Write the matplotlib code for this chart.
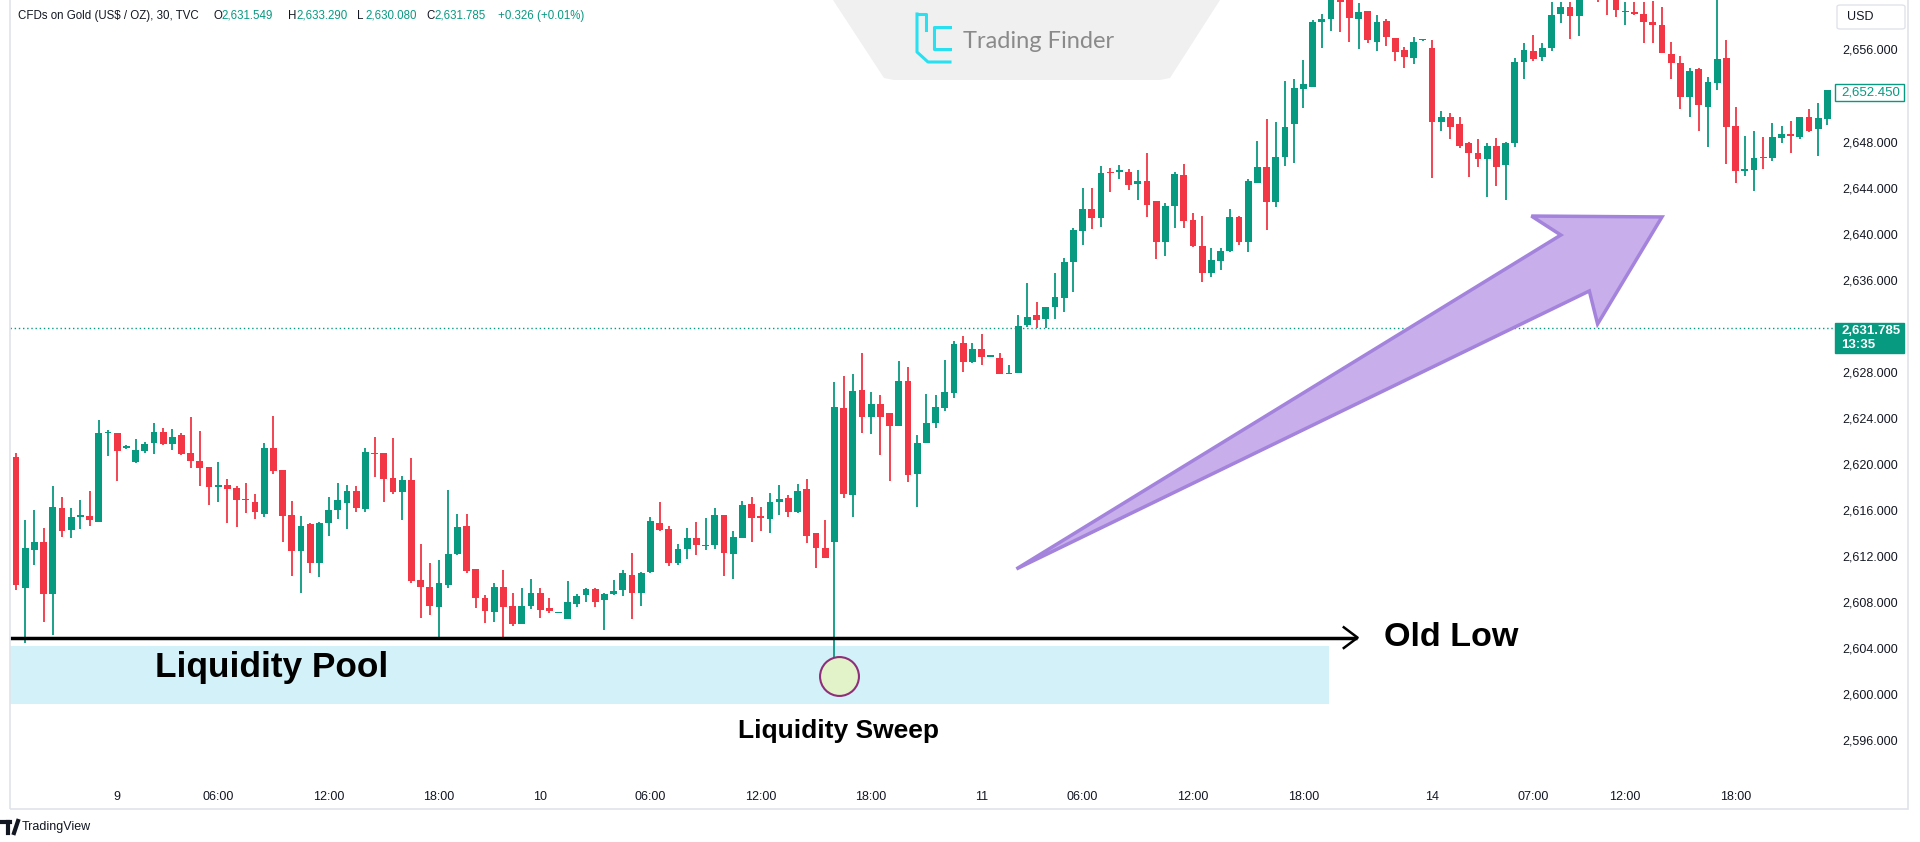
import matplotlib
matplotlib.use("Agg")
import matplotlib.pyplot as plt
from matplotlib.patches import Polygon, Rectangle, FancyBboxPatch
from matplotlib.lines import Line2D

# 30-minute candles, CFDs on Gold (US$/OZ)
opens = [
    2620.63, 2609.25, 2612.52, 2613.24, 2608.67, 2616.14, 2614.26, 2615.41, 2615.47, 2614.98,
    2622.65, 2622.71, 2621.40, 2620.19, 2621.12, 2621.84, 2622.77, 2621.70, 2622.51, 2620.92,
    2620.28, 2619.70, 2618.02, 2618.17, 2617.93, 2616.95, 2616.72, 2615.65, 2621.41, 2619.47,
    2615.56, 2612.46, 2614.75, 2611.36, 2614.89, 2615.99, 2616.63, 2617.67, 2616.08, 2620.97,
    2620.92, 2618.74, 2617.53, 2618.60, 2609.91, 2609.27, 2607.54, 2609.48, 2612.17, 2614.63,
    2610.84, 2608.32, 2607.13, 2609.27, 2607.65, 2606.09, 2607.65, 2608.75, 2607.45, 2607.05,
    2606.52, 2607.83, 2608.61, 2609.10, 2608.17, 2608.70, 2609.04, 2610.35, 2608.75, 2610.64,
    2614.89, 2614.37, 2611.42, 2612.58, 2613.59, 2612.87, 2612.95, 2615.56, 2612.14, 2613.59,
    2616.49, 2615.47, 2615.18, 2616.66, 2617.01, 2615.79, 2617.82, 2613.97, 2612.66, 2613.24,
    2624.83, 2617.30, 2626.42, 2624.10, 2625.20, 2624.39, 2623.32, 2627.20, 2619.12, 2621.79,
    2623.58, 2624.82, 2626.18, 2630.47, 2628.81, 2629.97, 2629.30, 2629.16, 2627.80, 2627.92,
    2632.06, 2632.93, 2632.55, 2633.59, 2634.38, 2637.56, 2640.23, 2642.11, 2641.33, 2645.35,
    2645.32, 2645.38, 2644.31, 2644.57, 2642.86, 2639.24, 2642.40, 2645.09, 2641.18, 2638.95,
    2636.55, 2637.65, 2638.52, 2641.47, 2639.25, 2644.43, 2645.82, 2642.78, 2646.69, 2649.53,
    2652.57, 2652.77, 2658.36, 2658.65, 2660.60, 2660.80, 2658.62, 2659.34, 2656.68, 2658.48,
    2657.03, 2655.96, 2655.23, 2656.82, 2656.16, 2649.67, 2650.16, 2649.50, 2647.91, 2646.98,
    2646.49, 2647.64, 2645.96, 2647.85, 2654.88, 2655.90, 2655.32, 2656.10, 2659.05, 2659.66,
    2658.91, 2660.80, 2661.80, 2661.50, 2660.80, 2659.23, 2659.29, 2659.05, 2658.36, 2658.13,
    2655.61, 2654.86, 2651.90, 2654.28, 2651.03, 2653.12, 2655.23, 2649.38, 2645.47, 2645.53,
    2646.69, 2646.54, 2648.28, 2648.63, 2648.43, 2650.16, 2649.09, 2649.96,
]
highs = [
    2620.97, 2615.12, 2615.99, 2614.40, 2618.08, 2617.09, 2616.14, 2616.86, 2617.67, 2623.81,
    2622.94, 2622.71, 2621.60, 2622.19, 2621.93, 2623.52, 2623.09, 2623.00, 2622.65, 2624.10,
    2622.89, 2619.70, 2620.16, 2618.66, 2618.08, 2618.37, 2617.38, 2621.84, 2624.16, 2619.47,
    2616.78, 2615.47, 2614.84, 2614.98, 2617.15, 2618.37, 2618.17, 2618.08, 2621.35, 2622.31,
    2620.92, 2622.22, 2618.95, 2620.48, 2613.04, 2611.36, 2611.65, 2617.73, 2615.65, 2615.65,
    2610.84, 2608.61, 2609.68, 2610.78, 2608.81, 2609.19, 2609.97, 2609.19, 2608.32, 2607.15,
    2609.85, 2608.67, 2609.19, 2609.19, 2608.76, 2609.91, 2610.78, 2612.23, 2610.64, 2615.42,
    2616.66, 2614.61, 2613.04, 2614.40, 2614.98, 2615.27, 2616.14, 2615.56, 2614.20, 2616.81,
    2617.15, 2616.23, 2617.44, 2618.17, 2617.30, 2618.25, 2618.66, 2613.97, 2615.13, 2627.14,
    2627.64, 2627.81, 2629.61, 2626.28, 2625.99, 2624.39, 2628.97, 2628.45, 2622.51, 2626.07,
    2625.99, 2629.02, 2630.70, 2631.10, 2630.47, 2631.28, 2629.40, 2629.65, 2628.58, 2632.93,
    2635.74, 2634.09, 2633.65, 2636.55, 2637.85, 2640.46, 2643.93, 2643.93, 2645.87, 2645.67,
    2645.96, 2645.58, 2645.52, 2647.03, 2642.86, 2642.63, 2645.38, 2646.02, 2641.76, 2641.53,
    2638.72, 2638.72, 2642.11, 2641.53, 2644.72, 2648.05, 2649.93, 2649.73, 2653.26, 2653.41,
    2655.09, 2658.56, 2659.08, 2660.90, 2661.20, 2661.50, 2660.07, 2659.34, 2659.00, 2658.65,
    2657.03, 2656.25, 2657.11, 2656.95, 2656.82, 2650.69, 2650.45, 2650.11, 2648.00, 2648.22,
    2647.85, 2648.34, 2648.00, 2655.23, 2656.59, 2657.26, 2656.59, 2660.15, 2660.15, 2660.15,
    2661.00, 2662.00, 2662.30, 2662.00, 2661.20, 2660.15, 2660.15, 2660.15, 2660.21, 2659.66,
    2656.68, 2655.43, 2654.42, 2654.36, 2653.64, 2660.60, 2656.82, 2650.97, 2648.48, 2648.95,
    2648.43, 2649.58, 2649.35, 2649.79, 2650.16, 2650.80, 2651.38, 2652.48,
]
lows = [
    2609.04, 2604.41, 2611.21, 2606.29, 2605.13, 2613.68, 2613.53, 2614.31, 2614.60, 2614.98,
    2620.68, 2618.54, 2621.30, 2620.11, 2620.92, 2620.86, 2621.64, 2621.21, 2620.77, 2619.61,
    2618.08, 2616.43, 2616.72, 2614.83, 2614.55, 2615.70, 2615.21, 2615.41, 2619.12, 2613.24,
    2610.26, 2608.81, 2610.55, 2610.20, 2613.73, 2615.18, 2614.31, 2615.79, 2615.85, 2618.89,
    2616.72, 2617.38, 2615.12, 2609.62, 2606.58, 2606.87, 2604.93, 2609.19, 2612.08, 2610.49,
    2607.45, 2606.15, 2606.23, 2604.84, 2605.92, 2606.09, 2607.36, 2606.58, 2607.02, 2607.00,
    2606.49, 2607.54, 2608.03, 2607.54, 2605.57, 2608.61, 2608.52, 2606.50, 2607.65, 2610.55,
    2614.20, 2611.13, 2611.22, 2611.71, 2612.09, 2612.52, 2612.58, 2610.26, 2609.97, 2613.53,
    2613.24, 2614.20, 2614.03, 2615.56, 2615.36, 2615.71, 2613.10, 2610.93, 2611.85, 2602.26,
    2617.01, 2615.42, 2622.71, 2622.57, 2620.77, 2618.51, 2623.32, 2618.46, 2616.23, 2621.79,
    2623.09, 2624.59, 2625.69, 2628.00, 2628.73, 2628.58, 2629.25, 2627.77, 2627.77, 2627.86,
    2631.86, 2631.77, 2631.77, 2632.58, 2633.22, 2634.95, 2639.01, 2640.37, 2640.60, 2643.64,
    2644.71, 2643.79, 2642.92, 2641.47, 2637.76, 2638.05, 2640.46, 2640.46, 2638.86, 2635.82,
    2636.20, 2636.84, 2638.43, 2639.01, 2638.44, 2644.43, 2640.32, 2642.34, 2645.88, 2646.17,
    2650.89, 2652.77, 2656.16, 2657.64, 2657.55, 2656.68, 2656.01, 2656.54, 2655.90, 2656.30,
    2655.03, 2654.42, 2654.74, 2656.78, 2644.81, 2648.95, 2648.19, 2647.41, 2644.89, 2645.82,
    2643.21, 2644.17, 2642.92, 2647.56, 2653.41, 2654.99, 2654.99, 2655.90, 2658.33, 2656.88,
    2657.17, 2660.50, 2660.15, 2659.00, 2658.85, 2658.13, 2659.00, 2656.54, 2656.59, 2655.67,
    2653.44, 2650.80, 2650.11, 2648.95, 2647.50, 2652.48, 2646.05, 2644.43, 2645.01, 2643.71,
    2645.62, 2646.31, 2647.85, 2646.98, 2648.19, 2648.86, 2646.75, 2649.44,
]
closes = [
    2609.48, 2612.66, 2613.24, 2608.67, 2616.22, 2614.17, 2615.36, 2615.56, 2615.12, 2622.71,
    2622.77, 2621.12, 2621.50, 2621.21, 2621.70, 2622.77, 2621.73, 2622.31, 2620.86, 2620.28,
    2619.67, 2617.96, 2618.17, 2617.82, 2616.86, 2616.86, 2615.79, 2621.41, 2619.41, 2615.50,
    2612.46, 2614.60, 2611.36, 2614.89, 2615.99, 2616.86, 2617.67, 2616.14, 2621.00, 2620.86,
    2618.66, 2617.59, 2618.60, 2609.82, 2609.33, 2607.65, 2609.62, 2612.17, 2614.55, 2610.69,
    2608.32, 2607.22, 2609.27, 2607.54, 2606.09, 2607.65, 2608.81, 2607.31, 2607.22, 2607.10,
    2608.00, 2608.52, 2609.10, 2608.03, 2608.70, 2608.96, 2610.55, 2608.75, 2610.55, 2615.07,
    2614.26, 2611.36, 2612.58, 2613.59, 2612.95, 2612.95, 2615.56, 2612.23, 2613.62, 2616.43,
    2615.33, 2615.27, 2616.66, 2616.92, 2615.79, 2617.67, 2613.76, 2612.72, 2611.85, 2624.97,
    2617.36, 2626.36, 2624.10, 2625.20, 2624.10, 2623.32, 2627.20, 2619.04, 2621.85, 2623.58,
    2624.97, 2626.27, 2630.41, 2628.81, 2629.97, 2629.31, 2629.36, 2627.80, 2627.92, 2631.97,
    2632.72, 2632.49, 2633.59, 2634.46, 2637.50, 2640.31, 2642.11, 2641.33, 2645.24, 2645.24,
    2645.52, 2644.22, 2644.57, 2642.48, 2639.24, 2642.40, 2645.15, 2641.12, 2638.95, 2636.61,
    2637.71, 2638.52, 2641.41, 2639.24, 2644.57, 2645.76, 2642.78, 2646.69, 2649.30, 2652.63,
    2652.97, 2658.42, 2658.65, 2660.60, 2660.15, 2658.71, 2659.29, 2656.82, 2658.36, 2657.11,
    2655.81, 2655.32, 2656.68, 2656.90, 2649.73, 2650.11, 2649.30, 2647.64, 2646.98, 2646.49,
    2647.64, 2645.82, 2647.91, 2654.94, 2655.96, 2655.17, 2656.10, 2659.00, 2659.66, 2658.91,
    2660.50, 2661.50, 2661.00, 2660.90, 2659.43, 2659.34, 2659.05, 2658.36, 2658.13, 2655.67,
    2654.80, 2651.90, 2654.13, 2651.18, 2653.20, 2655.15, 2649.30, 2645.47, 2645.59, 2646.60,
    2646.54, 2648.37, 2648.63, 2648.48, 2650.16, 2648.92, 2650.08, 2652.45,
]

time_ticks = [11, 22, 34, 46, 57, 69, 81, 93, 105, 116, 128, 140, 154, 165, 175, 187]
time_labels = ["9", "06:00", "12:00", "18:00", "10", "06:00", "12:00", "18:00",
               "11", "06:00", "12:00", "18:00", "14", "07:00", "12:00", "18:00"]
price_ticks = [2596, 2600, 2604, 2608, 2612, 2616, 2620, 2624, 2628, 2636, 2640, 2644, 2648, 2656]

last_price = 2652.45
current_price = 2631.785
old_low = 2604.9

UP = "#089981"
DOWN = "#f23645"
TEXT = "#131722"
W, H = 1920, 842


def fx(x):
    return x / W


def fy(y):
    return 1 - y / H


plt.rcParams["font.family"] = ["Liberation Sans", "DejaVu Sans"]

fig = plt.figure(figsize=(19.2, 8.42), dpi=100)
fig.patch.set_facecolor("white")
ax = fig.add_axes([fx(10), fy(770), fx(1833) - fx(10), 770 / H])
ax.set_facecolor("white")

n = len(closes)
xs = list(range(n))
colors = [UP if c >= o else DOWN for o, c in zip(opens, closes)]
bottoms = [min(o, c) for o, c in zip(opens, closes)]
heights = [max(abs(c - o), 0.12) for o, c in zip(opens, closes)]
ax.vlines(xs, lows, highs, colors=colors, linewidth=1.3, zorder=3)
ax.bar(xs, heights, bottom=bottoms, width=0.74, color=colors, linewidth=0, zorder=4)

ax.set_xlim(-0.65, 197.6)
ax.set_ylim(2593.4, 2660.3)

ax.axhline(current_price, color=UP, lw=1, ls=(0, (1, 2)), zorder=2)

# liquidity pool zone and old low
ax.add_patch(Rectangle((-0.65, 2599.14), 143.45, 5.04, facecolor="#d3f1f8",
                       edgecolor="none", zorder=1))
ax.plot([-0.65, 145.8], [old_low, old_low], color="black", lw=2.5, zorder=5,
        solid_capstyle="butt")
ax.plot([144.4, 145.9, 144.4], [old_low + 0.9, old_low, old_low - 0.9], color="black",
        lw=1.8, zorder=5)
ax.text(148.8, old_low, "Old Low", fontsize=24.6, fontweight="bold", color="black",
        ha="left", va="center", zorder=6)
ax.text(15.1, 2602.3, "Liquidity Pool", fontsize=25.4, fontweight="bold", color="black",
        ha="left", va="center", zorder=6)
ax.plot([89.5], [2601.6], marker="o", markersize=28, markerfacecolor="#e2f3c9",
        markeredgecolor="#8f2f7a", markeredgewidth=1.5, zorder=6)
ax.text(89.5, 2596.8, "Liquidity Sweep", fontsize=19, fontweight="bold", color="black",
        ha="center", va="center", zorder=6)

# purple trend arrow
arrow_pts = [(108.8, 2610.87), (168.0, 2639.88), (164.8, 2641.53), (179.0, 2641.45),
             (172.0, 2632.15), (171.1, 2635.02)]
ax.add_patch(Polygon(arrow_pts, closed=True, facecolor="#c8aeea", edgecolor="#a383dc",
                     lw=2.5, joinstyle="miter", zorder=6))

for s in ax.spines.values():
    s.set_visible(False)
ax.set_xticks(time_ticks)
ax.set_xticklabels(time_labels)
ax.tick_params(axis="x", length=0, pad=15, labelsize=9, labelcolor=TEXT)
ax.yaxis.tick_right()
ax.set_yticks(price_ticks)
ax.set_yticklabels([f"{p:,.3f}" for p in price_ticks])
ax.tick_params(axis="y", length=0, pad=7, labelsize=9, labelcolor=TEXT)

# pane frame
fig.add_artist(Rectangle((fx(10), fy(809)), fx(1898), 809 / H + 0.01,
                         transform=fig.transFigure, fill=False, ec="#e0e3eb", lw=1.2))

# price scale badges
fig.add_artist(FancyBboxPatch((fx(1837), fy(29)), fx(68), 24 / H,
                              boxstyle="round,pad=0,rounding_size=0.002",
                              transform=fig.transFigure, fc="white", ec="#e0e3eb", lw=1))
fig.text(fx(1847), fy(17), "USD", fontsize=9, color=TEXT, va="center", ha="left")
fig.add_artist(Rectangle((fx(1835), fy(101)), fx(69), 17 / H, transform=fig.transFigure,
                         fc="white", ec=UP, lw=1))
fig.text(fx(1841), fy(92.5), f"{last_price:,.3f}", fontsize=9.5, color=UP, va="center")
fig.add_artist(Rectangle((fx(1835), fy(353)), fx(69), 30 / H, transform=fig.transFigure,
                         fc=UP, ec=UP, lw=1))
fig.text(fx(1841), fy(331), f"{current_price:,.3f}", fontsize=9.5, color="white",
         va="center", fontweight="bold")
fig.text(fx(1841), fy(345), "13:35", fontsize=9.5, color="white", va="center",
         fontweight="bold")

# header legend
HFS = 8.3
fig.text(fx(18), fy(16), "CFDs on Gold (US$ / OZ), 30, TVC", fontsize=HFS, color=TEXT,
         va="center")
for x0, lab, val in [(213, "O", "2,631.549"), (288, "H", "2,633.290"),
                     (357, "L", "2,630.080"), (426, "C", "2,631.785")]:
    fig.text(fx(x0), fy(16), lab, fontsize=HFS, color=TEXT, va="center")
    fig.text(fx(x0 + 8), fy(16), val, fontsize=HFS, color=UP, va="center")
fig.text(fx(498), fy(16), "+0.326 (+0.01%)", fontsize=HFS, color=UP, va="center")

# Trading Finder watermark
fig.add_artist(Polygon([(fx(833), fy(0)), (fx(1220), fy(0)), (fx(1170), fy(78)),
                        (fx(1160), fy(80)), (fx(894), fy(80)), (fx(884), fy(78))],
                       closed=True, transform=fig.transFigure, fc="#f0f0f1", ec="none"))
cyan = "#28e0f0"
fig.add_artist(Line2D([fx(917), fx(917), fx(928), fx(928), fx(936), fx(950)],
                      [fy(14), fy(52), fy(62), fy(62), fy(62), fy(62)],
                      transform=fig.transFigure, color=cyan, lw=2.2))
fig.add_artist(Line2D([fx(917), fx(926), fx(926)], [fy(14), fy(14), fy(30)],
                      transform=fig.transFigure, color=cyan, lw=2.2))
fig.add_artist(Line2D([fx(950), fx(934), fx(934), fx(950)],
                      [fy(27), fy(27), fy(49), fy(49)],
                      transform=fig.transFigure, color=cyan, lw=2.2))
fig.text(fx(963), fy(42), "Trading Finder", fontsize=17, color="#8a8a8a", va="center",
         ha="left", family=["Lato", "DejaVu Sans"])

# TradingView footer
fig.add_artist(Line2D([fx(2), fx(10)], [fy(822), fy(822)], transform=fig.transFigure,
                      color=TEXT, lw=3))
fig.add_artist(Line2D([fx(8), fx(8)], [fy(822), fy(833)], transform=fig.transFigure,
                      color=TEXT, lw=3))
fig.add_artist(Line2D([fx(18), fx(14)], [fy(821), fy(833)], transform=fig.transFigure,
                      color=TEXT, lw=3))
fig.text(fx(22), fy(827), "TradingView", fontsize=9, color=TEXT, va="center")

fig.savefig("out.png", dpi=100, facecolor="white")
